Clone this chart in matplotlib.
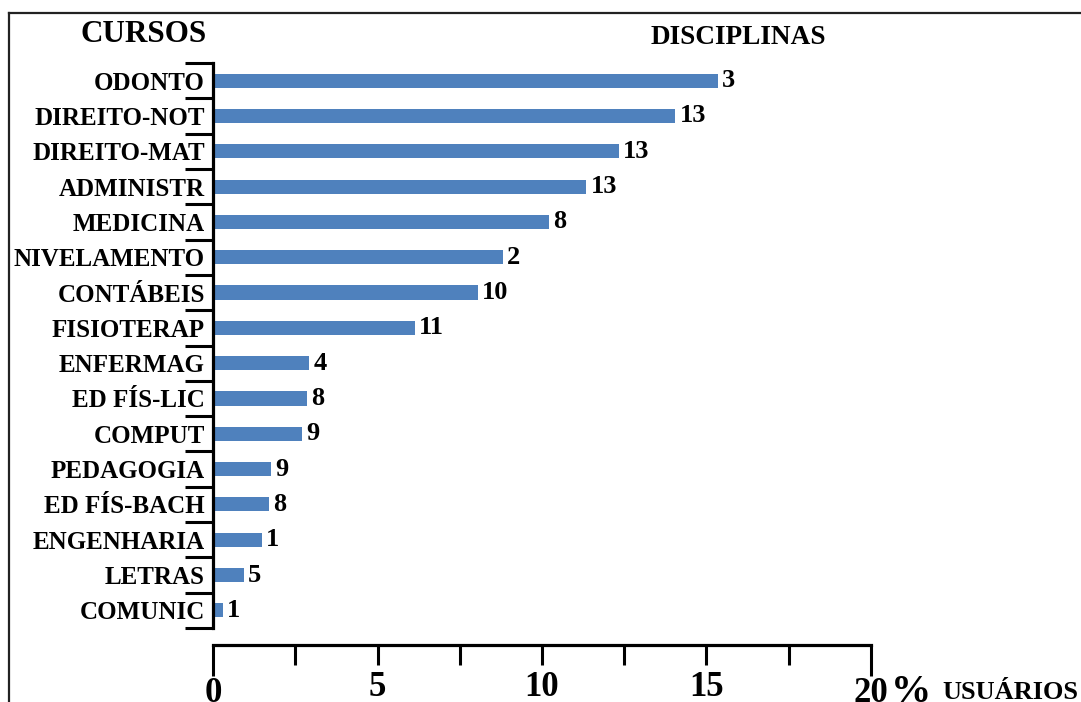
import matplotlib
matplotlib.use('Agg')
import matplotlib.pyplot as plt
from matplotlib.lines import Line2D

# cursos, de cima para baixo
cursos = ['ODONTO', 'DIREITO-NOT', 'DIREITO-MAT', 'ADMINISTR', 'MEDICINA',
          'NIVELAMENTO', 'CONTÁBEIS', 'FISIOTERAP', 'ENFERMAG', 'ED FÍS-LIC',
          'COMPUT', 'PEDAGOGIA', 'ED FÍS-BACH', 'ENGENHARIA', 'LETRAS', 'COMUNIC']
usuarios = [15.3, 14.0, 12.27, 11.29, 10.14, 8.75, 7.98, 6.08,
            2.86, 2.79, 2.64, 1.70, 1.62, 1.42, 0.86, 0.22]
disciplinas = ['3', '13', '13', '13', '8', '2', '10', '11',
               '4', '8', '9', '9', '8', '1', '5', '1']

plt.rcParams['font.family'] = ['Liberation Serif', 'DejaVu Serif']
plt.rcParams['font.weight'] = 'bold'

W, H = 1081, 702
fig = plt.figure(figsize=(W / 100, H / 100), dpi=100)

# moldura (so esquerda e topo aparecem no recorte)
fy = 1 - 13 / H
fx = 9 / W
fig.lines.append(Line2D([fx, fx], [0, fy], transform=fig.transFigure,
                        color='#222222', linewidth=1.6))
fig.lines.append(Line2D([fx, 1.0], [fy, fy], transform=fig.transFigure,
                        color='#222222', linewidth=1.6))

ax = fig.add_axes([213.3 / W, 1 - 628 / H, 657.4 / W, (628 - 63) / H])

n = len(cursos)
ypos = list(range(n))
ax.barh(ypos, usuarios, height=0.4, color='#4f81bd', left=0.06)
ax.set_ylim(n - 0.5, -0.5)
ax.set_xlim(0, 20)

for y, v, lab in zip(ypos, usuarios, disciplinas):
    ax.annotate(lab, (v + 0.06, y), xytext=(3, 0), textcoords='offset points',
                ha='left', va='center', fontsize=19, fontweight='bold')

for s in ['top', 'right']:
    ax.spines[s].set_visible(False)
ax.spines['left'].set_linewidth(2.3)
ax.spines['bottom'].set_linewidth(2.3)
ax.spines['bottom'].set_position(('outward', 12.2))

# eixo y: marcas nas fronteiras, rotulos no centro
ax.set_yticks([i - 0.5 for i in range(n + 1)])
ax.set_yticklabels([])
ax.tick_params(axis='y', which='major', direction='out', length=20, width=2.2)
ax.set_yticks(ypos, minor=True)
ax.set_yticklabels(cursos, minor=True, fontsize=18, fontweight='bold')
ax.tick_params(axis='y', which='minor', length=0, pad=6)

# eixo x
ax.set_xticks([0, 20])
ax.set_xticklabels(['0', '20'], fontsize=25, fontweight='bold')
ax.tick_params(axis='x', which='major', direction='out', length=22, width=2.2, pad=1)
ax.set_xticks([2.5, 5, 7.5, 10, 12.5, 15, 17.5], minor=True)
ax.set_xticklabels(['', '5', '', '10', '', '15', ''], minor=True,
                   fontsize=25, fontweight='bold')
ax.tick_params(axis='x', which='minor', direction='out', length=14.4, width=2.2, pad=4)

fig.text(207 / W, 1 - 34 / H, 'CURSOS', ha='right', va='center',
         fontsize=22.4, fontweight='bold')
fig.text(738 / W, 1 - 37 / H, 'DISCIPLINAS', ha='center', va='center',
         fontsize=19.6, fontweight='bold')
fig.text(891 / W, 1 - 702 / H, '%', ha='left', va='baseline',
         fontsize=29, fontweight='bold')
fig.text(942 / W, 1 - 699 / H, 'USUÁRIOS', ha='left', va='baseline',
         fontsize=19, fontweight='bold')

fig.savefig('out.png', dpi=100)
